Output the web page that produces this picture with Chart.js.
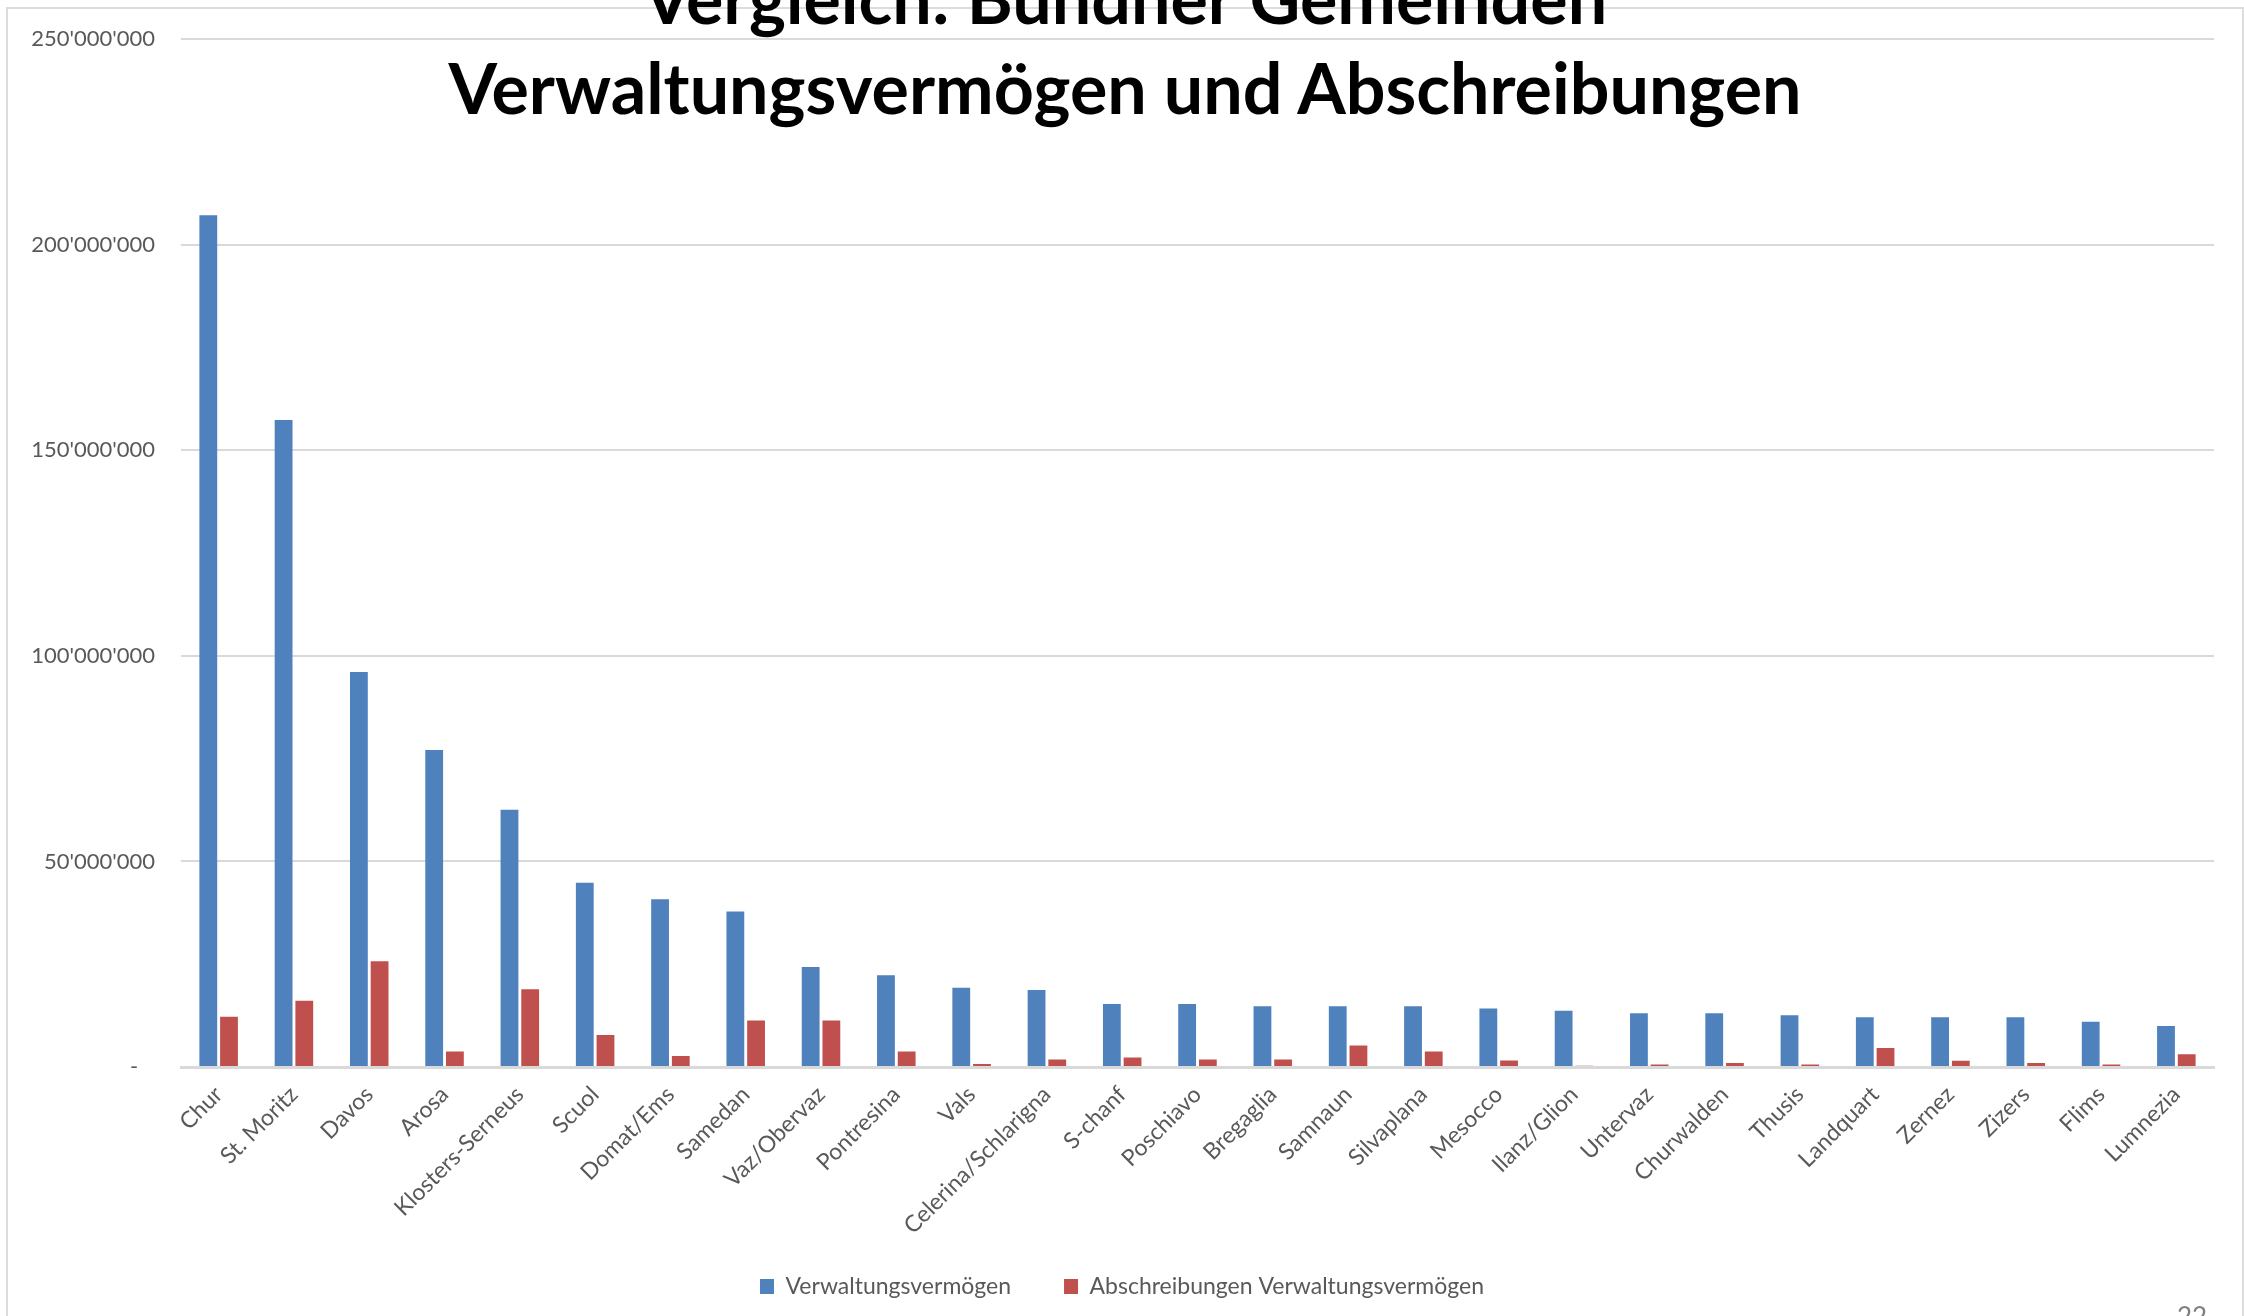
<!DOCTYPE html>
<html>
<head>
<meta charset="utf-8">
<title>Verwaltungsvermögen und Abschreibungen</title>
<script src="https://cdn.jsdelivr.net/npm/chart.js@4.4.1/dist/chart.umd.min.js"></script>
<style>
  html, body { margin: 0; padding: 0; background: #fff; overflow: hidden; }
  #wrap { position: relative; width: 2244px; height: 1316px; overflow: hidden; }
  #frame { position: absolute; left: 6px; top: 7px; width: 2238px; height: 1400px; border: 2px solid #dcdcdc; box-sizing: border-box; }
  #chart { position: absolute; left: 0; top: 0; }
  .title { position: absolute; left: 0; width: 2250px; text-align: center; font-family: Lato, sans-serif; font-weight: 700; font-size: 70px; line-height: 70px; color: #000; white-space: nowrap; }
  #page { position: absolute; left: 2177px; top: 1300px; font-family: Lato, sans-serif; font-size: 26px; color: #7f7f7f; }
</style>
</head>
<body>
<div id="wrap">
  <div id="frame"></div>
  <canvas id="chart" width="2244" height="1316"></canvas>
  <div class="title" style="top:-38px">Vergleich: Bündner Gemeinden</div>
  <div class="title" style="top:52px">Verwaltungsvermögen und Abschreibungen</div>
  <div id="page">22</div>
</div>
<script>
// Gemeinden (Reihenfolge wie im Original)
const gemeinden = [
  'Chur', 'St. Moritz', 'Davos', 'Arosa', 'Klosters-Serneus', 'Scuol', 'Domat/Ems',
  'Samedan', 'Vaz/Obervaz', 'Pontresina', 'Vals', 'Celerina/Schlarigna', 'S-chanf',
  'Poschiavo', 'Bregaglia', 'Samnaun', 'Silvaplana', 'Mesocco', 'Ilanz/Glion',
  'Untervaz', 'Churwalden', 'Thusis', 'Landquart', 'Zernez', 'Zizers', 'Flims', 'Lumnezia'
];

// Werte in CHF
const verwaltungsvermoegen = [
  207200000, 157400000, 96100000, 77100000, 62600000, 44800000, 40800000,
  37800000, 24300000, 22300000, 19300000, 18700000, 15300000,
  15300000, 14800000, 14800000, 14800000, 14200000, 13700000,
  13100000, 13100000, 12600000, 12100000, 12100000, 12100000, 11000000, 10000000
];
const abschreibungen = [
  12200000, 16100000, 25700000, 3800000, 18900000, 7800000, 2700000,
  11300000, 11300000, 3800000, 700000, 1800000, 2300000,
  1800000, 1800000, 5200000, 3800000, 1600000, 300000,
  600000, 1000000, 600000, 4600000, 1500000, 1000000, 600000, 3100000
];

const yMax = 250000000;
const yStep = 50000000;

const blau = '#4f81bd';
const rot = '#c0504d';
const grau = '#595959';
const linie = '#d9d9d9';

function formatCHF(v) {
  if (v === 0) return '-   ';
  return String(v).replace(/\B(?=(\d{3})+(?!\d))/g, "'");
}

// die schrägen Beschriftungen sollen nicht am unteren Rand der x-Achse abgeschnitten werden
const labelsNichtKappen = {
  id: 'labelsNichtKappen',
  afterLayout(chart) {
    chart.scales.x.bottom = chart.height;
  }
};

Chart.defaults.font.family = 'Lato, sans-serif';
Chart.defaults.color = grau;

new Chart(document.getElementById('chart'), {
  type: 'bar',
  data: {
    labels: gemeinden,
    datasets: [
      {
        label: 'Verwaltungsvermögen',
        data: verwaltungsvermoegen,
        backgroundColor: blau,
        categoryPercentage: 0.55,
        barPercentage: 0.86
      },
      {
        label: 'Abschreibungen Verwaltungsvermögen',
        data: abschreibungen,
        backgroundColor: rot,
        categoryPercentage: 0.55,
        barPercentage: 0.86
      }
    ]
  },
  plugins: [labelsNichtKappen],
  options: {
    responsive: false,
    animation: false,
    layout: { padding: { top: 39, right: 30, bottom: 8, left: 30 } },
    plugins: {
      title: { display: false },
      tooltip: { enabled: false },
      legend: {
        position: 'bottom',
        labels: {
          boxWidth: 14,
          boxHeight: 15,
          padding: 53,
          color: grau,
          font: { size: 23 }
        }
      }
    },
    scales: {
      x: {
        grid: { display: false, drawTicks: false },
        border: { display: true, color: linie, width: 3 },
        ticks: {
          autoSkip: false,
          minRotation: 45,
          maxRotation: 45,
          padding: 14,
          color: grau,
          font: { size: 23 }
        },
        afterFit(scale) { scale.height = 155; }
      },
      y: {
        min: 0,
        max: yMax,
        grid: { color: linie, lineWidth: 2, drawTicks: false },
        border: { display: false },
        ticks: {
          stepSize: yStep,
          padding: 26,
          color: grau,
          font: { size: 22 },
          callback: v => formatCHF(v)
        },
        afterFit(scale) { scale.width = 151; }
      }
    }
  }
});
</script>
</body>
</html>
